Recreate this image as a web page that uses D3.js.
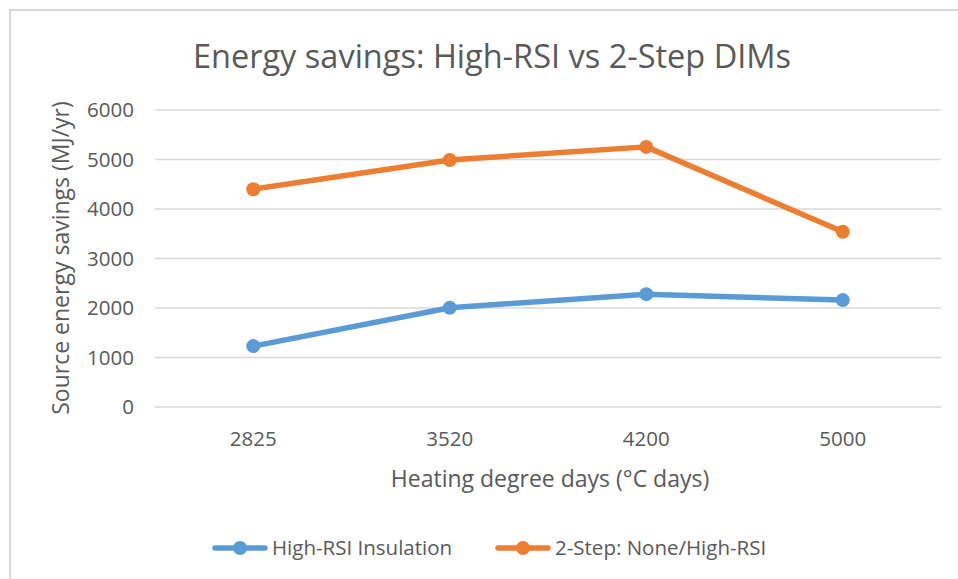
<!DOCTYPE html>
<html><head><meta charset="utf-8">
<script src="https://cdn.jsdelivr.net/npm/d3@7"></script>
<style>body{margin:0;background:#fff;}svg{display:block;}</style>
</head><body>
<svg id="c" width="958" height="579"></svg>
<script>
const categories = ["2825", "3520", "4200", "5000"];
const highRSI = [1230, 2005, 2280, 2160];
const twoStep = [4400, 4990, 5255, 3540];
const yTicks = [0, 1000, 2000, 3000, 4000, 5000, 6000];
const seriesNames = ["High-RSI Insulation", "2-Step: None/High-RSI"];
const colors = ["#5B9BD5", "#ED7D31"];

const font = "'Open Sans', 'Liberation Sans', sans-serif";
const svg = d3.select("#c");
svg.append("rect").attr("x", 10).attr("y", 10).attr("width", 960).attr("height", 580)
  .attr("fill", "#fff").attr("stroke", "#d9d9d9").attr("stroke-width", 2);

const m = {l: 155, r: 941, t: 110, b: 407};
const x = d3.scaleBand().domain(categories).range([m.l, m.r]);
const y = d3.scaleLinear().domain([0, 6000]).range([m.b, m.t]);

// gridlines
svg.append("g").selectAll("line").data(yTicks).join("line")
  .attr("x1", m.l).attr("x2", m.r)
  .attr("y1", d => y(d)).attr("y2", d => y(d))
  .attr("stroke", "#d9d9d9").attr("stroke-width", 1.5);

// y axis
const ya = svg.append("g").attr("transform", `translate(${m.l},0)`)
  .call(d3.axisLeft(y).tickValues(yTicks).tickFormat(d3.format("d")).tickSize(0).tickPadding(21));
ya.select(".domain").remove();
ya.selectAll("text").attr("font-family", font).attr("font-size", 20.5).attr("fill", "#595959");

// x axis
const xa = svg.append("g").attr("transform", `translate(0,${m.b})`)
  .call(d3.axisBottom(x).tickSize(0).tickPadding(24));
xa.select(".domain").remove();
xa.selectAll("text").attr("font-family", font).attr("font-size", 20.5).attr("fill", "#595959");

// series
const series = [highRSI, twoStep];
const line = d3.line().x((d, i) => x(categories[i]) + x.bandwidth() / 2).y(d => y(d));
series.forEach((s, k) => {
  svg.append("path").datum(s).attr("d", line).attr("fill", "none")
    .attr("stroke", colors[k]).attr("stroke-width", 5.5).attr("stroke-linejoin", "round").attr("stroke-linecap", "round");
  svg.append("g").selectAll("circle").data(s).join("circle")
    .attr("cx", (d, i) => x(categories[i]) + x.bandwidth() / 2).attr("cy", d => y(d))
    .attr("r", 7).attr("fill", colors[k]);
});

// title
svg.append("text").attr("x", 492).attr("y", 68).attr("text-anchor", "middle")
  .attr("font-family", font).attr("font-size", 32.5).attr("fill", "#595959")
  .text("Energy savings: High-RSI vs 2-Step DIMs");

// axis titles
svg.append("text").attr("transform", "translate(69,258) rotate(-90)").attr("text-anchor", "middle")
  .attr("font-family", font).attr("font-size", 23).attr("fill", "#595959")
  .text("Source energy savings (MJ/yr)");
svg.append("text").attr("x", 550).attr("y", 487).attr("text-anchor", "middle")
  .attr("font-family", font).attr("font-size", 23).attr("fill", "#595959")
  .text("Heating degree days (°C days)");

// legend
const legX = [213, 496];
const lg = svg.append("g");
seriesNames.forEach((n, k) => {
  const g = lg.append("g").attr("transform", `translate(${legX[k]},548)`);
  g.append("line").attr("x1", 2).attr("x2", 52).attr("stroke", colors[k]).attr("stroke-width", 5.5).attr("stroke-linecap", "round");
  g.append("circle").attr("cx", 27).attr("r", 7).attr("fill", colors[k]);
  g.append("text").attr("x", 59).attr("y", 7).attr("font-family", font).attr("font-size", 20.5)
    .attr("fill", "#595959").text(n);
});
</script>
</body></html>
